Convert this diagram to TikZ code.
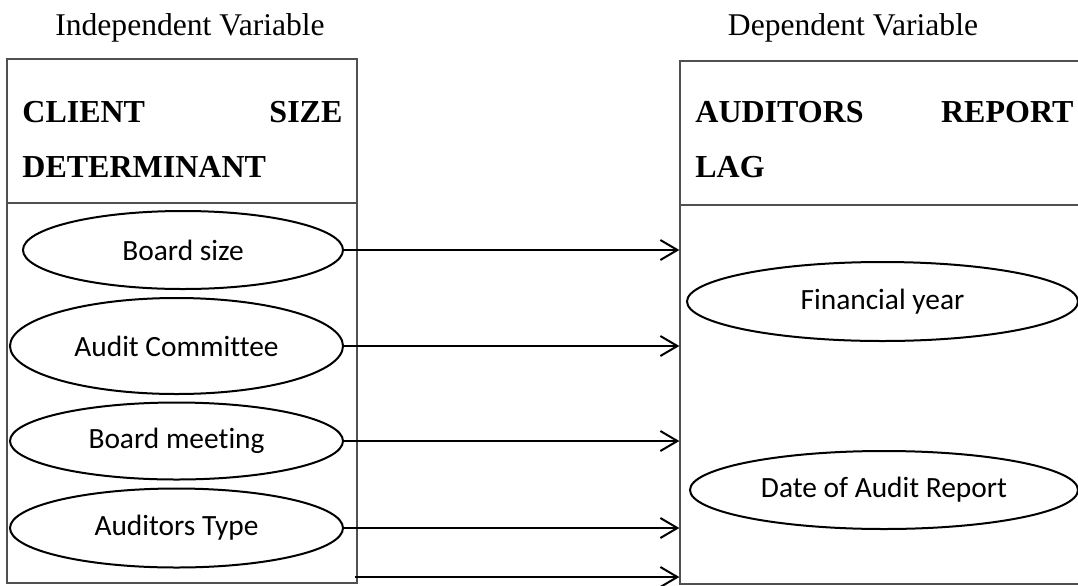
\documentclass[tikz,border=0pt]{standalone}
\usepackage{fontspec}
\setmainfont{Liberation Serif}
\newfontfamily\calibrifont[Ligatures=NoCommon]{Carlito}
\usetikzlibrary{shapes.geometric,arrows.meta}
\definecolor{boxgrey}{HTML}{505050}

\begin{document}
\begin{tikzpicture}[
    x=0.5pt, y=-0.5pt,
    varbox/.style={draw=boxgrey, line width=0.65pt, rectangle, inner sep=0pt},
    factor/.style={draw, ellipse, line width=1pt, inner sep=0pt,
        font=\calibrifont\fontsize{14.7}{17}\selectfont},
    heading/.style={anchor=base west, align=left, inner sep=0pt,
        font=\bfseries\fontsize{16}{27.5}\selectfont},
    vartitle/.style={anchor=base, inner sep=0pt, font=\fontsize{15.8}{18}\selectfont},
    link/.style={-{Straight Barb[length=8.5pt,width=10pt]}, line width=1pt}
]
    \useasboundingbox (0,0) rectangle (1078,585);
    \clip (0,0) rectangle (1078,585);

    % titles
    \node[vartitle] (indtitle) at (190,35) {Independent Variable};
    \node[vartitle] (deptitle) at (853,35) {Dependent Variable};

    % the two boxes
    \node[varbox, minimum width=175pt, minimum height=262pt] (indbox) at (182,321) {};
    \node[varbox, minimum width=204pt, minimum height=261.5pt] (depbox) at (884,322.5) {};
    \draw[draw=boxgrey, line width=0.65pt] (7,203) -- (357,203);
    \draw[draw=boxgrey, line width=0.65pt] (680,205) -- (1090,205);

    \node[heading, text width=160pt] (indhead) at (22,122) {CLIENT\hfill SIZE\\DETERMINANT};
    \node[heading, text width=189pt] (dephead) at (695,122) {AUDITORS\hfill REPORT\\LAG};

    % independent factors
    \node[factor, minimum width=160pt, minimum height=39pt] (bsize) at (183,250) {Board size};
    \node[factor, minimum width=166.5pt, minimum height=48pt] (acomm) at (176.5,346) {Audit Committee};
    \node[factor, minimum width=166.5pt, minimum height=38.5pt] (bmeet) at (176.5,441) {Board meeting};
    \node[factor, minimum width=166.5pt, minimum height=39.5pt] (atype) at (176.5,528) {Auditors Type};

    % dependent factors
    \node[factor, minimum width=195.5pt, minimum height=39.5pt] (finyear) at (882.5,301.5) {Financial year};
    \node[factor, minimum width=194pt, minimum height=39pt] (dateaud) at (884,490) {Date of Audit Report};

    % links
    \foreach \f in {bsize,acomm,bmeet,atype}
        \draw[link] (\f.east) -- (\f.east -| depbox.west);
    \coordinate (lowstart) at (355,577);
    \draw[link] (lowstart) -- (lowstart -| depbox.west);
\end{tikzpicture}
\end{document}
